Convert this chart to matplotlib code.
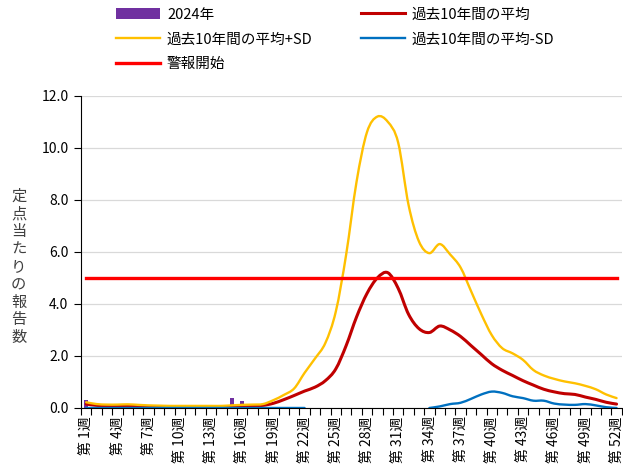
import numpy as np
import matplotlib
matplotlib.use("Agg")
import matplotlib.pyplot as plt
from matplotlib.path import Path
from matplotlib.patches import PathPatch

plt.rcParams['font.family'] = ['Noto Sans CJK JP', 'DejaVu Sans']

weeks = np.arange(1, 53)

# 2024年 (reported so far)
cur_2024 = [0.30, 0, 0, 0, 0, 0, 0, 0, 0, 0, 0, 0, 0, 0.03, 0.38, 0.25] + [np.nan] * 36

# 過去10年間の平均
avg = [0.15, 0.10, 0.08, 0.08, 0.08, 0.07, 0.05, 0.05, 0.05, 0.05, 0.05, 0.05, 0.04, 0.04,
       0.05, 0.07, 0.08, 0.10, 0.18, 0.32, 0.48, 0.65, 0.80, 1.05, 1.50, 2.40, 3.50, 4.40,
       5.00, 5.20, 4.60, 3.60, 3.05, 2.90, 3.15, 3.00, 2.75, 2.40, 2.05, 1.70, 1.45, 1.25,
       1.05, 0.88, 0.72, 0.62, 0.55, 0.52, 0.42, 0.33, 0.22, 0.15]

# 過去10年間の平均+SD
avg_plus = [0.22, 0.15, 0.13, 0.13, 0.14, 0.12, 0.10, 0.09, 0.08, 0.08, 0.08, 0.08, 0.08, 0.08,
            0.10, 0.12, 0.13, 0.15, 0.30, 0.50, 0.75, 1.35, 1.90, 2.50, 3.70, 5.90, 8.70, 10.60,
            11.20, 11.00, 10.20, 7.80, 6.40, 5.95, 6.30, 5.90, 5.40, 4.50, 3.60, 2.80, 2.30, 2.10,
            1.85, 1.46, 1.25, 1.12, 1.02, 0.95, 0.85, 0.72, 0.52, 0.38]

# 過去10年間の平均-SD (negative weeks not plotted)
avg_minus = [0.0] * 22 + [np.nan] * 11 + [0.0, 0.06, 0.15, 0.20, 0.35, 0.52, 0.63, 0.58, 0.45,
                                          0.38, 0.28, 0.28, 0.17, 0.13, 0.12, 0.15, 0.10, 0.03, 0.0]

alert = [5.0] * 52

tick_weeks = list(range(1, 53, 3))
tick_labels = [f"第 {w}週" for w in tick_weeks]


def smooth_line(ax, x, y, color, lw, label=None, zorder=3):
    # Excel-style smoothed line: cubic bezier through the data points
    x = np.asarray(x, float)
    y = np.asarray(y, float)
    ok = ~np.isnan(y)
    segs = []
    start = None
    for i, v in enumerate(ok):
        if v and start is None:
            start = i
        if (not v or i == len(ok) - 1) and start is not None:
            end = i if not v else i + 1
            segs.append((start, end))
            start = None
    for s, e in segs:
        px, py = x[s:e], y[s:e]
        n = len(px)
        verts = [(px[0], py[0])]
        codes = [Path.MOVETO]
        for i in range(n - 1):
            i0, i2, i3 = max(i - 1, 0), i + 1, min(i + 2, n - 1)
            c1 = (px[i] + (px[i2] - px[i0]) / 6, py[i] + (py[i2] - py[i0]) / 6)
            c2 = (px[i2] - (px[i3] - px[i]) / 6, py[i2] - (py[i3] - py[i]) / 6)
            verts += [c1, c2, (px[i2], py[i2])]
            codes += [Path.CURVE4] * 3
        ax.add_patch(PathPatch(Path(verts, codes), facecolor='none', edgecolor=color,
                               lw=lw, zorder=zorder, capstyle='round', joinstyle='round'))
    # proxy for legend
    ax.plot([], [], color=color, lw=lw, label=label)


fig = plt.figure(figsize=(6.23, 4.66), dpi=100)
ax = fig.add_axes([0.130, 0.1245, 0.868, 0.670])

ax.bar(weeks, cur_2024, width=0.4, color='#7030A0', label='2024年', zorder=2)
smooth_line(ax, weeks, avg, '#C00000', 2.2, '過去10年間の平均', zorder=3)
smooth_line(ax, weeks, avg_plus, '#FFC000', 1.7, '過去10年間の平均+SD', zorder=3)
smooth_line(ax, weeks, avg_minus, '#0070C0', 1.7, '過去10年間の平均-SD', zorder=3)
ax.plot(weeks, alert, color='#FF0000', lw=2.4, label='警報開始', zorder=4)

ax.set_xlim(0.5, 52.5)
ax.set_ylim(0, 12)
ax.set_yticks(np.arange(0, 12.1, 2))
ax.set_yticklabels([f"{v:.1f}" for v in np.arange(0, 12.1, 2)], fontsize=10)
ax.set_xticks(tick_weeks)
ax.set_xticklabels(tick_labels, rotation=90, fontsize=10)
ax.set_xticks(np.arange(0.5, 53, 1), minor=True)
ax.tick_params(axis='x', which='major', length=0, pad=6)
ax.tick_params(axis='x', which='minor', length=5, direction='out', width=0.8)
ax.tick_params(axis='y', length=5, direction='out', width=0.8, pad=4)
ax.grid(axis='y', color='#D9D9D9', lw=0.9, zorder=0)
ax.set_axisbelow(True)
for s in ['top', 'right']:
    ax.spines[s].set_visible(False)
ax.spines['left'].set_color('black')
ax.spines['bottom'].set_color('black')

fig.text(0.03, 0.427, "\n".join("定点当たりの報告数"), fontsize=11, ha='center', va='center',
         linespacing=1.05, color='#404040')

h, l = ax.get_legend_handles_labels()
order = ['2024年', '過去10年間の平均+SD', '警報開始', '過去10年間の平均', '過去10年間の平均-SD']
hl = dict(zip(l, h))
fig.legend([hl[k] for k in order], order, loc='upper left', bbox_to_anchor=(0.165, 1.012),
           ncol=2, frameon=False, fontsize=10.5, handlelength=3.0, columnspacing=3.3,
           labelspacing=0.75, handletextpad=0.5)

fig.savefig("out.png", dpi=100)
